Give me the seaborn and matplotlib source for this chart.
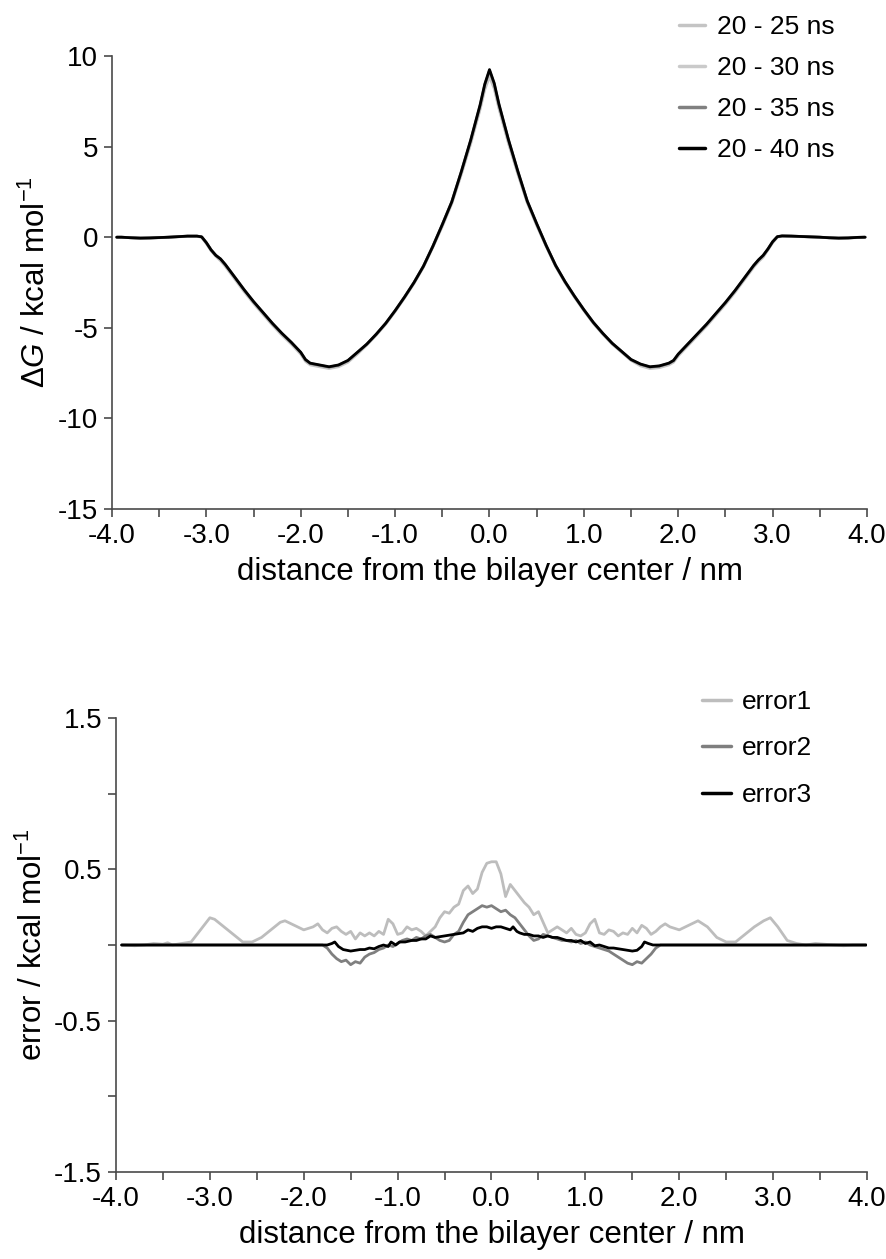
import numpy as np
import pandas as pd
import matplotlib
matplotlib.use("Agg")
import matplotlib.pyplot as plt
import seaborn as sns

# ---------------- data: top panel (free energy profiles) ----------------
x_dg = [-3.95, -3.9, -3.8, -3.7, -3.6, -3.5, -3.4, -3.3, -3.2, -3.1, -3.05, -3.0, -2.95, -2.9,
        -2.85, -2.8, -2.7, -2.6, -2.5, -2.4, -2.3, -2.2, -2.1, -2.0, -1.95, -1.9, -1.8, -1.7,
        -1.6, -1.5, -1.4, -1.3, -1.2, -1.1, -1.0, -0.9, -0.8, -0.7, -0.6, -0.5, -0.4, -0.3,
        -0.2, -0.1, -0.05, 0.0, 0.05, 0.1, 0.2, 0.3, 0.4, 0.5, 0.6, 0.7, 0.8, 0.9, 1.0, 1.1,
        1.2, 1.3, 1.4, 1.5, 1.6, 1.7, 1.8, 1.9, 1.95, 2.0, 2.1, 2.2, 2.3, 2.4, 2.5, 2.6, 2.7,
        2.8, 2.85, 2.9, 2.95, 3.0, 3.05, 3.1, 3.2, 3.3, 3.4, 3.5, 3.6, 3.7, 3.8, 3.9, 3.98]

dg_20_25 = [0.0, 0.0, -0.03, -0.06, -0.05, -0.03, 0.0, 0.02, 0.05, 0.05, 0.0, -0.35, -0.75, -1.05,
            -1.3, -1.6, -2.3, -3.0, -3.65, -4.25, -4.85, -5.4, -5.9, -6.45, -6.85, -7.05, -7.15, -7.25,
            -7.15, -6.9, -6.45, -5.95, -5.4, -4.8, -4.1, -3.35, -2.55, -1.65, -0.55, 0.6, 1.85, 3.45,
            5.15, 7.05, 8.15, 8.85, 8.2, 7.1, 5.2, 3.5, 1.9, 0.65, -0.5, -1.6, -2.5, -3.3, -4.05, -4.75,
            -5.35, -5.9, -6.35, -6.8, -7.1, -7.25, -7.2, -7.05, -6.9, -6.55, -6.0, -5.45, -4.9, -4.3, -3.7, -3.05, -2.35,
            -1.65, -1.35, -1.1, -0.7, -0.3, 0.0, 0.06, 0.05, 0.03, 0.01, 0.0, -0.04, -0.06, -0.05, -0.02, 0.0]

dg_20_30 = [0.0, 0.0, -0.03, -0.05, -0.05, -0.02, 0.0, 0.03, 0.05, 0.05, 0.01, -0.33, -0.72, -1.02,
            -1.25, -1.57, -2.25, -2.95, -3.6, -4.2, -4.8, -5.35, -5.85, -6.4, -6.8, -7.0, -7.1, -7.2,
            -7.1, -6.85, -6.4, -5.92, -5.38, -4.78, -4.08, -3.32, -2.52, -1.62, -0.52, 0.65, 1.9, 3.5,
            5.25, 7.15, 8.3, 9.0, 8.35, 7.2, 5.3, 3.55, 1.95, 0.7, -0.48, -1.58, -2.48, -3.28, -4.02, -4.72,
            -5.32, -5.87, -6.32, -6.77, -7.05, -7.2, -7.15, -7.0, -6.85, -6.5, -5.95, -5.4, -4.85, -4.25, -3.65, -3.0, -2.3,
            -1.6, -1.3, -1.05, -0.68, -0.28, 0.02, 0.07, 0.06, 0.04, 0.02, 0.0, -0.03, -0.05, -0.04, -0.01, 0.0]

dg_20_35 = [0.0, 0.0, -0.03, -0.05, -0.04, -0.02, 0.0, 0.03, 0.06, 0.06, 0.02, -0.31, -0.7, -1.0,
            -1.2, -1.52, -2.2, -2.9, -3.57, -4.17, -4.77, -5.32, -5.82, -6.37, -6.77, -6.97, -7.07, -7.17,
            -7.07, -6.82, -6.37, -5.9, -5.36, -4.76, -4.06, -3.3, -2.5, -1.6, -0.5, 0.7, 1.95, 3.58,
            5.32, 7.25, 8.4, 9.2, 8.45, 7.3, 5.38, 3.62, 1.98, 0.73, -0.46, -1.56, -2.46, -3.26, -4.01, -4.71,
            -5.31, -5.86, -6.31, -6.76, -7.02, -7.17, -7.12, -6.97, -6.82, -6.47, -5.92, -5.37, -4.82, -4.22, -3.62, -2.97, -2.27,
            -1.57, -1.27, -1.02, -0.66, -0.26, 0.03, 0.07, 0.06, 0.04, 0.02, 0.0, -0.03, -0.05, -0.04, -0.01, 0.0]

dg_20_40 = [0.0, 0.0, -0.03, -0.05, -0.04, -0.02, 0.0, 0.03, 0.06, 0.06, 0.02, -0.3, -0.7, -1.0,
            -1.2, -1.5, -2.2, -2.9, -3.55, -4.15, -4.75, -5.3, -5.8, -6.35, -6.75, -6.95, -7.05, -7.15,
            -7.05, -6.8, -6.35, -5.9, -5.35, -4.75, -4.05, -3.3, -2.5, -1.6, -0.5, 0.7, 1.95, 3.6,
            5.35, 7.3, 8.45, 9.25, 8.5, 7.35, 5.4, 3.65, 2.0, 0.75, -0.45, -1.55, -2.45, -3.25, -4.0, -4.7,
            -5.3, -5.85, -6.3, -6.75, -7.0, -7.15, -7.1, -6.95, -6.8, -6.45, -5.9, -5.35, -4.8, -4.2, -3.6, -2.95, -2.25,
            -1.55, -1.25, -1.0, -0.65, -0.25, 0.03, 0.07, 0.06, 0.04, 0.02, 0.0, -0.03, -0.05, -0.04, -0.01, 0.0]

dg_labels = ["20 - 25 ns", "20 - 30 ns", "20 - 35 ns", "20 - 40 ns"]

# ---------------- data: bottom panel (errors) ----------------
err1_x = [-3.94, -3.8, -3.7, -3.6, -3.5, -3.45, -3.4, -3.3, -3.2, -3.1, -3.0, -2.95, -2.85, -2.75,
          -2.65, -2.55, -2.45, -2.35, -2.25, -2.2, -2.1, -2.0, -1.9, -1.85, -1.8, -1.75, -1.7, -1.65,
          -1.6, -1.55, -1.5, -1.45, -1.4, -1.35, -1.3, -1.25, -1.2, -1.15, -1.1, -1.05, -1.0, -0.95,
          -0.9, -0.85, -0.8, -0.75, -0.7, -0.65, -0.6, -0.55, -0.5, -0.45, -0.4, -0.35, -0.3, -0.25,
          -0.2, -0.15, -0.1, -0.05, 0.0, 0.05, 0.1, 0.15, 0.2, 0.25, 0.3, 0.35, 0.4, 0.45, 0.5, 0.55,
          0.6, 0.65, 0.7, 0.75, 0.8, 0.85, 0.9, 0.95, 1.0, 1.05, 1.1, 1.15, 1.2, 1.25, 1.3, 1.35, 1.4,
          1.45, 1.5, 1.55, 1.6, 1.65, 1.7, 1.75, 1.8, 1.85, 1.9, 2.0, 2.1, 2.2, 2.3, 2.4, 2.5, 2.6,
          2.7, 2.8, 2.9, 2.97, 3.05, 3.15, 3.25, 3.35, 3.45, 3.55, 3.65, 3.75, 3.85, 3.99]
err1_y = [0.0, -0.005, 0.0, 0.01, 0.005, 0.015, 0.0, 0.01, 0.02, 0.1, 0.18, 0.17, 0.12, 0.07,
          0.02, 0.02, 0.05, 0.1, 0.15, 0.16, 0.13, 0.1, 0.12, 0.14, 0.1, 0.08, 0.11, 0.12,
          0.09, 0.07, 0.09, 0.04, 0.08, 0.06, 0.08, 0.06, 0.09, 0.07, 0.17, 0.14, 0.07, 0.08,
          0.12, 0.1, 0.11, 0.09, 0.06, 0.09, 0.12, 0.18, 0.22, 0.21, 0.25, 0.27, 0.36, 0.39,
          0.34, 0.37, 0.48, 0.54, 0.55, 0.55, 0.47, 0.32, 0.4, 0.36, 0.32, 0.28, 0.25, 0.2, 0.22, 0.15,
          0.08, 0.1, 0.12, 0.1, 0.08, 0.11, 0.07, 0.06, 0.08, 0.14, 0.17, 0.08, 0.07, 0.1, 0.09, 0.06, 0.08,
          0.07, 0.11, 0.08, 0.13, 0.11, 0.07, 0.09, 0.12, 0.14, 0.12, 0.1, 0.13, 0.16, 0.12, 0.05, 0.02, 0.02,
          0.07, 0.12, 0.16, 0.18, 0.12, 0.03, 0.01, 0.0, 0.01, 0.005, 0.0, -0.005, 0.0, 0.0]

err2_x = [-3.94, -1.8, -1.75, -1.7, -1.65, -1.6, -1.55, -1.5, -1.45, -1.4, -1.35, -1.3, -1.25, -1.2,
          -1.15, -1.1, -1.05, -1.0, -0.95, -0.9, -0.85, -0.8, -0.75, -0.7, -0.65, -0.6, -0.55, -0.5,
          -0.45, -0.4, -0.35, -0.3, -0.25, -0.2, -0.15, -0.1, -0.05, 0.0, 0.05, 0.1, 0.15, 0.2, 0.25,
          0.3, 0.35, 0.4, 0.45, 0.5, 0.55, 0.6, 0.65, 0.7, 0.75, 0.8, 0.85, 0.9, 0.95, 1.0, 1.05, 1.1,
          1.15, 1.2, 1.25, 1.3, 1.35, 1.4, 1.45, 1.5, 1.55, 1.6, 1.65, 1.7, 1.75, 1.8, 3.99]
err2_y = [0.0, 0.0, -0.02, -0.06, -0.09, -0.11, -0.1, -0.13, -0.11, -0.12, -0.08, -0.06, -0.05, -0.03,
          -0.02, 0.0, -0.01, 0.01, 0.03, 0.04, 0.03, 0.05, 0.04, 0.06, 0.07, 0.05, 0.03, 0.02,
          0.03, 0.07, 0.09, 0.15, 0.2, 0.22, 0.24, 0.26, 0.25, 0.26, 0.24, 0.22, 0.23, 0.2, 0.18,
          0.14, 0.1, 0.06, 0.03, 0.04, 0.07, 0.06, 0.05, 0.04, 0.03, 0.03, 0.02, 0.03, 0.01, 0.02, 0.0, -0.01,
          -0.02, -0.03, -0.04, -0.06, -0.08, -0.1, -0.12, -0.13, -0.11, -0.12, -0.09, -0.06, -0.02, 0.0, 0.0]

err3_x = [-3.94, -1.75, -1.7, -1.67, -1.63, -1.58, -1.5, -1.45, -1.4, -1.35, -1.3, -1.25, -1.2, -1.15,
          -1.1, -1.07, -1.02, -0.98, -0.92, -0.85, -0.8, -0.75, -0.7, -0.65, -0.6, -0.5, -0.4, -0.3,
          -0.25, -0.2, -0.15, -0.1, -0.05, 0.0, 0.05, 0.1, 0.15, 0.2, 0.23, 0.27, 0.3, 0.35, 0.4, 0.45,
          0.5, 0.55, 0.6, 0.65, 0.7, 0.75, 0.8, 0.85, 0.9, 0.95, 1.0, 1.05, 1.1, 1.15, 1.2, 1.25, 1.3,
          1.35, 1.4, 1.45, 1.5, 1.55, 1.6, 1.63, 1.67, 1.72, 3.99]
err3_y = [0.0, 0.0, 0.01, 0.02, -0.01, -0.03, -0.04, -0.035, -0.03, -0.03, -0.02, -0.025, -0.01, 0.0,
          -0.01, 0.02, 0.0, 0.02, 0.02, 0.03, 0.03, 0.04, 0.04, 0.06, 0.05, 0.06, 0.07, 0.08,
          0.1, 0.09, 0.11, 0.12, 0.12, 0.11, 0.12, 0.12, 0.11, 0.1, 0.12, 0.09, 0.08, 0.07, 0.07, 0.06,
          0.06, 0.05, 0.06, 0.05, 0.05, 0.04, 0.03, 0.03, 0.02, 0.03, 0.01, 0.02, -0.005, 0.0, -0.01, -0.02, -0.02,
          -0.025, -0.03, -0.035, -0.04, -0.035, -0.01, 0.02, 0.01, 0.0, 0.0]

err_labels = ["error1", "error2", "error3"]

# ---------------- style ----------------
sns.set_theme(style="ticks")
plt.rcParams["font.family"] = ["Liberation Sans", "DejaVu Sans"]
plt.rcParams["mathtext.fontset"] = "custom"
plt.rcParams["mathtext.rm"] = "Liberation Sans"
plt.rcParams["mathtext.it"] = "Liberation Sans:italic"
plt.rcParams["mathtext.default"] = "regular"
plt.rcParams["axes.unicode_minus"] = False
plt.rcParams["text.color"] = "black"
plt.rcParams["axes.labelcolor"] = "black"

spine_col = "#4a4a4a"
tick_fs = 20
label_fs = 22.5
leg_fs = 19
lw = 2.0

W, H = 887, 1259
fig = plt.figure(figsize=(W / 100, H / 100), dpi=100)

def axes_px(l, t, r, b):
    return fig.add_axes([l / W, 1 - b / H, (r - l) / W, (b - t) / H])

ax1 = axes_px(112, 56, 867, 509)
ax2 = axes_px(116, 718, 867, 1172)

dg_colors = ["#c4c4c4", "#cacaca", "#808080", "#000000"]
for ys, lab, c in zip([dg_20_25, dg_20_30, dg_20_35, dg_20_40], dg_labels, dg_colors):
    df = pd.DataFrame({"x": x_dg, "y": ys})
    sns.lineplot(data=df, x="x", y="y", ax=ax1, color=c, lw=lw, label=lab)

err_colors = ["#bdbdbd", "#7f7f7f", "#000000"]
for xs, ys, lab, c in zip([err1_x, err2_x, err3_x], [err1_y, err2_y, err3_y], err_labels, err_colors):
    df = pd.DataFrame({"x": xs, "y": ys})
    sns.lineplot(data=df, x="x", y="y", ax=ax2, color=c, lw=lw, label=lab)

for ax in (ax1, ax2):
    sns.despine(ax=ax)
    for s in ("left", "bottom"):
        ax.spines[s].set_color(spine_col)
        ax.spines[s].set_linewidth(1.2)
    ax.set_xlim(-4, 4)
    ax.set_xticks(np.arange(-4, 4.01, 1.0))
    ax.set_xticks(np.arange(-3.5, 4.0, 1.0), minor=True)
    ax.set_xticklabels([f"{v:.1f}" for v in np.arange(-4, 4.01, 1.0)])
    ax.tick_params(axis="both", which="both", direction="out", length=6, width=1.2,
                   color=spine_col, labelsize=tick_fs, labelcolor="black", pad=4)
    ax.set_xlabel("distance from the bilayer center / nm", fontsize=label_fs, labelpad=6)

ax1.set_ylim(-15, 10)
ax1.set_yticks([-15, -10, -5, 0, 5, 10])
ax1.set_ylabel(r"$\Delta\mathit{G}$ / kcal mol$^{-1}$", fontsize=label_fs, labelpad=4)

ax2.set_ylim(-1.5, 1.5)
ax2.set_yticks([-1.5, -0.5, 0.5, 1.5])
ax2.set_yticks([-1.0, 0.0, 1.0], minor=True)
ax2.set_yticklabels(["-1.5", "-0.5", "0.5", "1.5"])
ax2.set_ylabel(r"error / kcal mol$^{-1}$", fontsize=label_fs, labelpad=4)

leg1 = ax1.legend(loc="upper left", bbox_to_anchor=(679 / W, 1 - 15 / H),
                  bbox_transform=fig.transFigure, frameon=False, fontsize=leg_fs,
                  handlelength=1.0, handletextpad=0.45, labelspacing=0.65, borderpad=0,
                  borderaxespad=0)
leg2 = ax2.legend(loc="upper left", bbox_to_anchor=(702 / W, 1 - 690 / H),
                  bbox_transform=fig.transFigure, frameon=False, fontsize=leg_fs,
                  handlelength=1.1, handletextpad=0.4, labelspacing=0.85, borderpad=0,
                  borderaxespad=0)
for leg in (leg1, leg2):
    for h in leg.get_lines():
        h.set_linewidth(2.5)

fig.savefig("out.png", dpi=100)
